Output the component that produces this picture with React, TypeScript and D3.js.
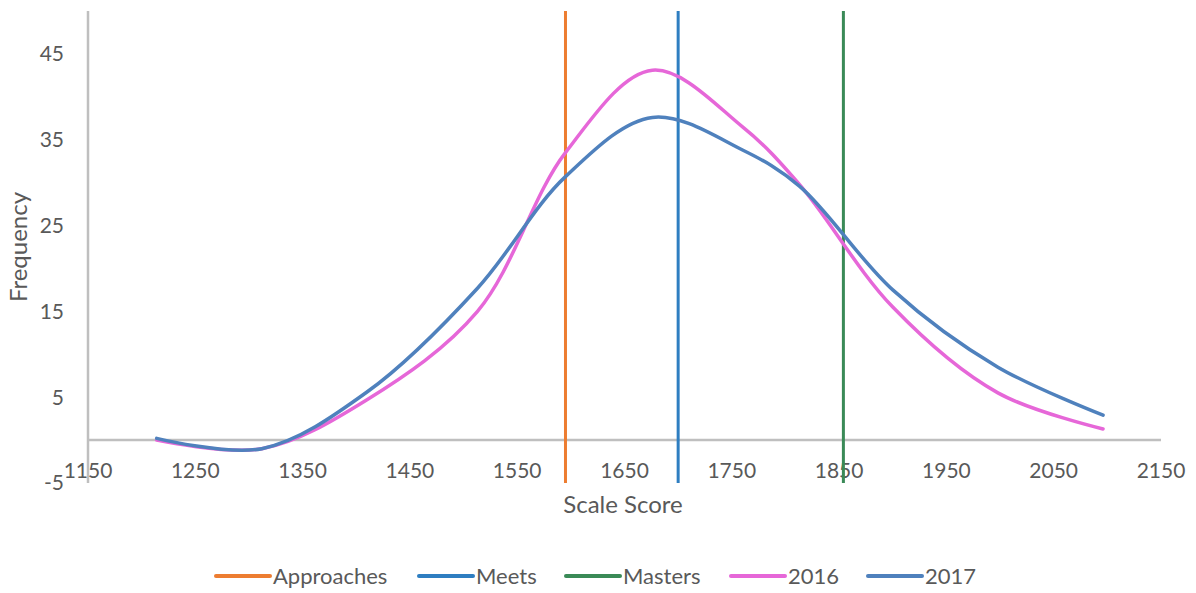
import * as React from 'react';
import * as d3 from 'd3';

// scale score points
const scores = [1214, 1312, 1410, 1513, 1595, 1676, 1760, 1813, 1900, 1998, 2096];
const freq2016 = [0, -1, 4.7, 15, 33.5, 43.1, 36.5, 29.8, 15.5, 5.5, 1.3];
const freq2017 = [0.2, -1, 5.6, 17.7, 30.7, 37.6, 33.8, 29.6, 17.5, 8.5, 2.9];

const cutNames = ['Approaches', 'Meets', 'Masters'];
const cutScores = [1595, 1700, 1854];
const cutColors = ['#ED7D31', '#2E7EC1', '#3A8A57'];

const seriesNames = ['2016', '2017'];
const seriesColors = ['#E667D8', '#4F81BD'];

const xTicks = [1150, 1250, 1350, 1450, 1550, 1650, 1750, 1850, 1950, 2050, 2150];
const yTicks = [-5, 5, 15, 25, 35, 45];

const W = 1196, H = 593;
const FONT = 'Lato, "Open Sans", sans-serif';
const TXT = '#595959';

export default function App() {
  const x = d3.scaleLinear().domain([1150, 2150]).range([88, 1161]);
  const y = d3.scaleLinear().domain([-5, 50]).range([483, 11]);

  const line = d3.line<[number, number]>()
    .x(d => x(d[0]))
    .y(d => y(d[1]))
    .curve(d3.curveCatmullRom.alpha(0.5));

  const series = [freq2016, freq2017].map(vals => scores.map((s, i) => [s, vals[i]] as [number, number]));

  const legend = [
    ...cutNames.map((n, i) => ({ name: n, color: cutColors[i] })),
    ...seriesNames.map((n, i) => ({ name: n, color: seriesColors[i] })),
  ];
  const legendX = [216, 419, 566, 731, 868];

  return (
    <svg width={W} height={H} style={{ position: 'absolute', left: 0, top: 0, background: '#fff' }}
      fontFamily={FONT}>
      {/* axes */}
      <line x1={x(1150)} x2={x(1150)} y1={y(50)} y2={y(-5)} stroke="#BFBFBF" strokeWidth={2.5} />
      <line x1={x(1150)} x2={x(2150)} y1={y(0)} y2={y(0)} stroke="#BFBFBF" strokeWidth={2.5} />

      {yTicks.map(t => (
        <text key={t} x={64} y={y(t)} dy="0.35em" textAnchor="end" fontSize={21} fill={TXT}>{t}</text>
      ))}
      {xTicks.map(t => (
        <text key={t} x={x(t)} y={478} textAnchor="middle" fontSize={21} fill={TXT}>{t}</text>
      ))}

      <text transform={`translate(27,247) rotate(-90)`} textAnchor="middle" fontSize={24} fill={TXT}>Frequency</text>
      <text x={623} y={513} textAnchor="middle" fontSize={24} fill={TXT}>Scale Score</text>

      {/* cut score lines */}
      {cutScores.map((c, i) => (
        <line key={i} x1={x(c)} x2={x(c)} y1={y(50)} y2={y(-5)} stroke={cutColors[i]} strokeWidth={3} />
      ))}

      {/* distributions */}
      {series.map((s, i) => (
        <path key={i} d={line(s) || ''} fill="none" stroke={seriesColors[i]} strokeWidth={3.5}
          strokeLinecap="round" />
      ))}

      {/* legend */}
      {legend.map((l, i) => (
        <g key={l.name} transform={`translate(${legendX[i]},576)`}>
          <line x1={0} x2={54} y1={0} y2={0} stroke={l.color} strokeWidth={4} strokeLinecap="round" />
          <text x={57} y={0} dy="0.35em" fontSize={22} fill={TXT}>{l.name}</text>
        </g>
      ))}
    </svg>
  );
}
